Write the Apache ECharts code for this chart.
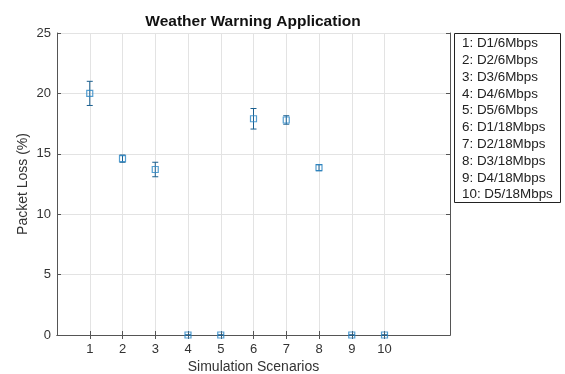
<!DOCTYPE html>
<html>
<head>
<meta charset="utf-8">
<script src="https://cdn.jsdelivr.net/npm/echarts@6/dist/echarts.min.js"></script>
<style>
  html, body { margin: 0; padding: 0; background: #fff; }
  #chart { width: 565px; height: 374px; }
</style>
</head>
<body>
<div id="chart"></div>
<script>
// scenario numbers on the x axis (axis runs 0..12)
const scenarios = [1, 2, 3, 4, 5, 6, 7, 8, 9, 10];
const axisMax = 12;
// mean packet loss (%) and half-width of error bar
const packetLoss = [20.0, 14.6, 13.7, 0, 0, 17.9, 17.8, 13.85, 0, 0];
const errHalf = [1.0, 0.3, 0.6, 0, 0, 0.85, 0.35, 0.25, 0, 0];
const legendLabels = [
  "1: D1/6Mbps", "2: D2/6Mbps", "3: D3/6Mbps", "4: D4/6Mbps", "5: D5/6Mbps",
  "6: D1/18Mbps", "7: D2/18Mbps", "8: D3/18Mbps", "9: D4/18Mbps", "10: D5/18Mbps"
];
const yTicks = [0, 5, 10, 15, 20, 25];

const font = "Liberation Sans, Arial, sans-serif";
const axisColor = "#555";

// category slots 0..12, only scenario slots get labels
const cats = [];
for (let i = 0; i <= axisMax; i++) {
  cats.push(scenarios.indexOf(i) >= 0 ? String(i) : "");
}
const isScenario = (idx) => scenarios.indexOf(idx) >= 0;

const chart = echarts.init(document.getElementById("chart"));

const legendItems = legendLabels.map((t, i) => ({
  type: "text",
  left: 462,
  top: 37 + i * 16.8,
  style: { text: t, font: "13.4px " + font, fill: "#222" },
}));

const option = {
  animation: false,
  backgroundColor: "#fff",
  title: {
    text: "Weather Warning Application",
    left: 248,
    top: 9,
    textAlign: "center",
    textStyle: { fontFamily: font, fontSize: 15.5, fontWeight: "bold", color: "#111" },
  },
  grid: { left: 57, top: 33, right: 115, bottom: 39, outerBoundsMode: "none", containLabel: false },
  xAxis: [
    {
      type: "category",
      data: cats,
      boundaryGap: false,
      name: "Simulation Scenarios",
      nameLocation: "middle",
      nameGap: 25,
      nameMoveOverlap: false,
      nameTextStyle: { fontFamily: font, fontSize: 14, color: "#333" },
      axisLine: { show: true, lineStyle: { color: axisColor, width: 1 } },
      axisTick: {
        show: true,
        inside: true,
        length: 4,
        interval: (idx) => isScenario(idx),
        lineStyle: { color: axisColor },
      },
      axisLabel: {
        interval: 0,
        margin: 8,
        fontFamily: font,
        fontSize: 13,
        color: "#333",
      },
      splitLine: {
        show: true,
        interval: (idx) => isScenario(idx),
        lineStyle: { color: "#e3e3e3", width: 1 },
      },
    },
    {
      type: "category",
      data: cats,
      boundaryGap: false,
      position: "top",
      axisLine: { show: true, lineStyle: { color: axisColor, width: 1 } },
      axisTick: {
        show: true,
        inside: true,
        length: 4,
        interval: (idx) => isScenario(idx),
        lineStyle: { color: axisColor },
      },
      axisLabel: { show: false },
      splitLine: { show: false },
    },
  ],
  yAxis: [
    {
      type: "value",
      min: yTicks[0],
      max: yTicks[yTicks.length - 1],
      interval: 5,
      name: "Packet Loss (%)",
      nameLocation: "middle",
      nameGap: 27,
      nameMoveOverlap: false,
      nameTextStyle: { fontFamily: font, fontSize: 14, color: "#333" },
      axisLine: { show: true, lineStyle: { color: axisColor, width: 1 } },
      axisTick: { show: true, inside: true, length: 4, lineStyle: { color: axisColor } },
      axisLabel: { margin: 6, fontFamily: font, fontSize: 13, color: "#333" },
      splitLine: { show: true, lineStyle: { color: "#e3e3e3", width: 1 } },
    },
    {
      type: "value",
      min: yTicks[0],
      max: yTicks[yTicks.length - 1],
      interval: 5,
      position: "right",
      axisLine: { show: true, lineStyle: { color: axisColor, width: 1 } },
      axisTick: { show: true, inside: true, length: 4, lineStyle: { color: axisColor } },
      axisLabel: { show: false },
      splitLine: { show: false },
    },
  ],
  series: [
    {
      type: "custom",
      name: "err",
      xAxisIndex: 0,
      yAxisIndex: 0,
      data: scenarios.map((s, i) => [s, packetLoss[i] - errHalf[i], packetLoss[i] + errHalf[i]]),
      renderItem: (params, api) => {
        const x = api.value(0);
        const lo = api.coord([x, api.value(1)]);
        const hi = api.coord([x, api.value(2)]);
        const hw = 3;
        const style = { stroke: "#1a5f8f", lineWidth: 1 };
        return {
          type: "group",
          children: [
            { type: "line", shape: { x1: lo[0], y1: lo[1], x2: hi[0], y2: hi[1] }, style },
            { type: "line", shape: { x1: lo[0] - hw, y1: lo[1], x2: lo[0] + hw, y2: lo[1] }, style },
            { type: "line", shape: { x1: hi[0] - hw, y1: hi[1], x2: hi[0] + hw, y2: hi[1] }, style },
          ],
        };
      },
      z: 3,
    },
    {
      type: "scatter",
      name: "loss",
      xAxisIndex: 0,
      yAxisIndex: 0,
      data: scenarios.map((s, i) => [s, packetLoss[i]]),
      symbol: "rect",
      symbolSize: 6,
      itemStyle: { color: "rgba(255,255,255,0)", borderColor: "#2a86c4", borderWidth: 1.2 },
      z: 4,
    },
  ],
  graphic: {
    elements: [
      {
        type: "rect",
        left: 454,
        top: 33,
        shape: { width: 106, height: 169 },
        style: { fill: "#fff", stroke: "#222", lineWidth: 1 },
      },
    ].concat(legendItems),
  },
};

chart.setOption(option);
</script>
</body>
</html>
